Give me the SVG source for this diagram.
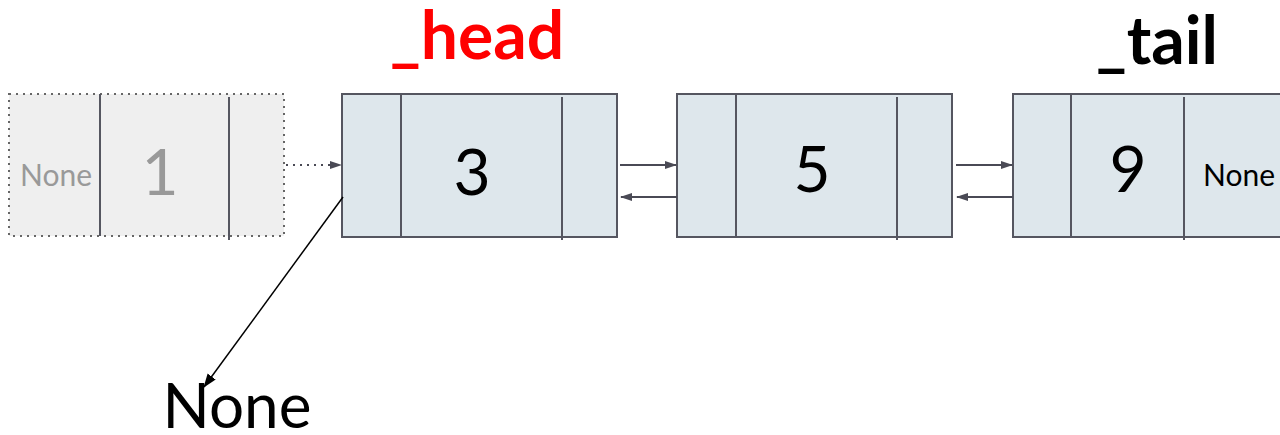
<svg xmlns="http://www.w3.org/2000/svg" width="1280" height="435" viewBox="0 0 1280 435">
<style>
.node{fill:#dee7ec;stroke:#555660;stroke-width:2}
.div{stroke:#555660;stroke-width:2}
.ghost{fill:#efefef;stroke:#666;stroke-width:2;stroke-dasharray:2 5}
.val{font-family:Lato,"Open Sans",sans-serif;font-size:64px;text-anchor:middle;fill:#000}
.small{font-family:Lato,"Open Sans",sans-serif;font-size:30px;fill:#000}
.lbl{font-family:Lato,"Open Sans",sans-serif;font-size:66px;font-weight:bold;text-anchor:middle}
.ptr{stroke:#4a4a55;stroke-width:2;fill:none}
</style>
<defs>
<marker id="ah" markerWidth="12" markerHeight="10" refX="11" refY="5" orient="auto" markerUnits="userSpaceOnUse">
<path d="M0,1 L12,5 L0,9 z" fill="#4a4a55"/>
</marker>
<marker id="ahb" markerWidth="14" markerHeight="14" refX="13" refY="7" orient="auto" markerUnits="userSpaceOnUse">
<path d="M0,2 L14,7 L0,12 z" fill="#000"/>
</marker>
</defs>
<g id="ghost1">
<rect class="ghost" x="9" y="94" width="275" height="142"/>
<line class="div" x1="100" y1="94" x2="100" y2="236"/>
<line class="div" x1="229" y1="97" x2="229" y2="240"/>
<text class="small" x="56" y="186" text-anchor="middle" style="fill:#999">None</text>
<text class="val" x="160" y="195" style="fill:#999">1</text>
</g>
<g id="node3">
<rect class="node" x="342" y="94" width="275" height="143"/>
<line class="div" x1="401" y1="94" x2="401" y2="237"/>
<line class="div" x1="562" y1="97" x2="562" y2="240"/>
<text class="val" x="472" y="195">3</text>
</g>
<g id="node5">
<rect class="node" x="677" y="94" width="275" height="143"/>
<line class="div" x1="736" y1="94" x2="736" y2="237"/>
<line class="div" x1="897" y1="97" x2="897" y2="240"/>
<text class="val" x="812" y="192">5</text>
</g>
<g id="node9">
<rect class="node" x="1013" y="94" width="290" height="143"/>
<line class="div" x1="1071" y1="94" x2="1071" y2="237"/>
<line class="div" x1="1184" y1="97" x2="1184" y2="240"/>
<text class="val" x="1128" y="192">9</text>
<text class="small" x="1203" y="186">None</text>
</g>
<g id="labels">
<text class="lbl" x="477" y="59" fill="#ff0000">_head</text>
<text class="lbl" x="1157" y="64" fill="#000">_tail</text>
<text id="none-bottom" x="237" y="428" font-family="Lato,'Open Sans',sans-serif" font-size="62" text-anchor="middle">None</text>
</g>
<g id="connectors">
<line class="ptr" x1="286" y1="165" x2="341" y2="165" stroke-dasharray="2 5" marker-end="url(#ah)"/>
<line class="ptr" x1="620" y1="165" x2="676" y2="165" marker-end="url(#ah)"/>
<line class="ptr" x1="677" y1="197" x2="621" y2="197" marker-end="url(#ah)"/>
<line class="ptr" x1="956" y1="165" x2="1012" y2="165" marker-end="url(#ah)"/>
<line class="ptr" x1="1013" y1="197" x2="957" y2="197" marker-end="url(#ah)"/>
<line x1="343" y1="197" x2="204" y2="387" stroke="#000" stroke-width="1.5" marker-end="url(#ahb)"/>
</g>
</svg>
